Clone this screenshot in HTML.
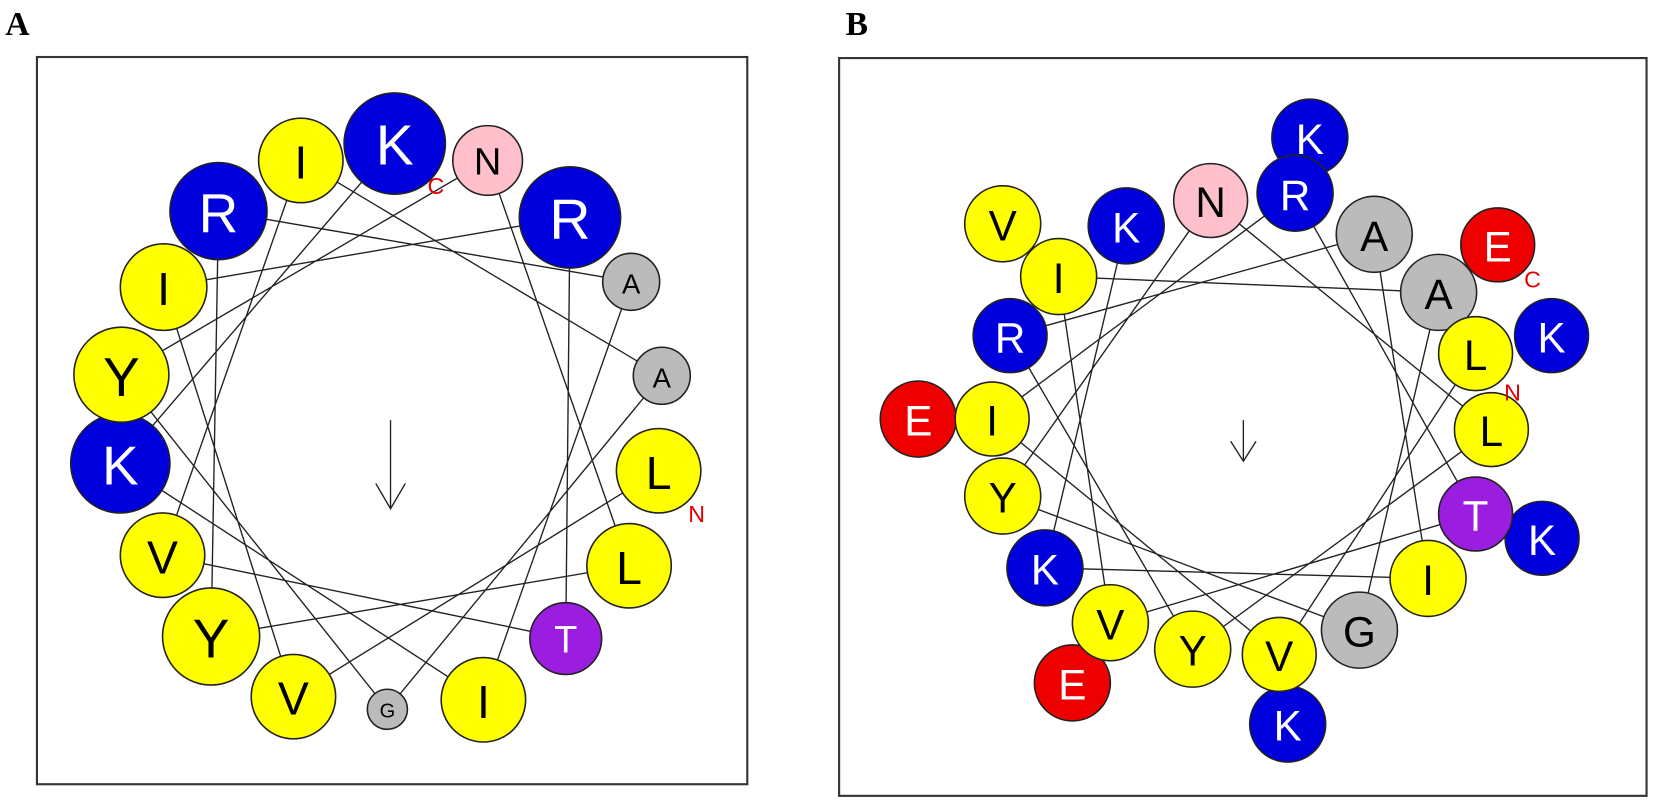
<!DOCTYPE html>
<html><head><meta charset="utf-8"><style>
html,body{margin:0;padding:0;background:#fff;}
svg{display:block}
.c{stroke:#222;stroke-width:1.5}
.t{font-family:"Liberation Sans",Arial,sans-serif;text-anchor:middle;dominant-baseline:central}
.l{stroke:#222;stroke-width:1.3;fill:none}
</style></head><body>
<svg width="1655" height="808" viewBox="0 0 1568 765.5" xmlns="http://www.w3.org/2000/svg">
<rect x="0" y="0" width="1568" height="765.5" fill="#fff"/>
<text x="5" y="33" font-family="Liberation Serif,serif" font-weight="bold" font-size="32">A</text>
<text x="801" y="33" font-family="Liberation Serif,serif" font-weight="bold" font-size="32">B</text>
<rect x="35" y="54" width="673" height="689" fill="none" stroke="#333" stroke-width="2"/>
<rect x="795" y="55" width="765" height="699" fill="none" stroke="#333" stroke-width="2"/>

<!-- Panel A lines: 5,10,15,2,7,12,17,4,9,14,1,6,11,16,3,8,13,0 -->
<polyline class="l" points="624,446 278,660 155,272 540,206 536,605 154,526 285,152 627,356 367,672 115,355 462,152 596,536 200,603 207,200 598,267 458,663 114,439 374,136"/>
<line class="l" x1="370" y1="398" x2="370" y2="481"/>
<polyline class="l" points="356,458 370,482 384,458"/>

<g class="t">
<circle class="c" cx="374" cy="136" r="48" fill="#0000dd"/><text x="374" y="138" font-size="54" fill="#fff">K</text>
<circle class="c" cx="462" cy="152" r="33" fill="#ffc0cb"/><text x="462" y="154" font-size="36" fill="#000">N</text>
<circle class="c" cx="540" cy="206" r="48" fill="#0000dd"/><text x="540" y="208" font-size="54" fill="#fff">R</text>
<circle class="c" cx="598" cy="267" r="27" fill="#bbb"/><text x="598" y="269" font-size="26" fill="#000">A</text>
<circle class="c" cx="627" cy="356" r="27" fill="#bbb"/><text x="627" y="358" font-size="26" fill="#000">A</text>
<circle class="c" cx="624" cy="446" r="40" fill="#ffff00"/><text x="624" y="448" font-size="44" fill="#000">L</text>
<circle class="c" cx="596" cy="536" r="40" fill="#ffff00"/><text x="596" y="538" font-size="44" fill="#000">L</text>
<circle class="c" cx="536" cy="605" r="34" fill="#9b1de0"/><text x="536" y="607" font-size="36" fill="#fff">T</text>
<circle class="c" cx="458" cy="663" r="40" fill="#ffff00"/><text x="458" y="665" font-size="44" fill="#000">I</text>
<circle class="c" cx="367" cy="672" r="19" fill="#bbb"/><text x="367" y="674" font-size="19" fill="#000">G</text>
<circle class="c" cx="278" cy="660" r="40" fill="#ffff00"/><text x="278" y="662" font-size="44" fill="#000">V</text>
<circle class="c" cx="200" cy="603" r="46" fill="#ffff00"/><text x="200" y="605" font-size="52" fill="#000">Y</text>
<circle class="c" cx="154" cy="526" r="40" fill="#ffff00"/><text x="154" y="528" font-size="44" fill="#000">V</text>
<circle class="c" cx="114" cy="439" r="47" fill="#0000dd"/><text x="114" y="441" font-size="52" fill="#fff">K</text>
<circle class="c" cx="115" cy="355" r="45" fill="#ffff00"/><text x="115" y="357" font-size="52" fill="#000">Y</text>
<circle class="c" cx="155" cy="272" r="41" fill="#ffff00"/><text x="155" y="274" font-size="44" fill="#000">I</text>
<circle class="c" cx="207" cy="200" r="46" fill="#0000dd"/><text x="207" y="202" font-size="52" fill="#fff">R</text>
<circle class="c" cx="285" cy="152" r="40" fill="#ffff00"/><text x="285" y="154" font-size="44" fill="#000">I</text>
<text x="660" y="487" font-size="22" fill="#e00000">N</text>
<text x="413" y="176" font-size="22" fill="#e00000">C</text>
</g>

<!-- Panel B -->
<g class="t">
<circle class="c" cx="1241" cy="130" r="36" fill="#0000dd"/><text x="1241" y="132" font-size="40" fill="#fff">K</text>
<circle class="c" cx="1419" cy="232" r="35" fill="#ee0000"/><text x="1419" y="234" font-size="40" fill="#fff">E</text>
<circle class="c" cx="1470" cy="318" r="35" fill="#0000dd"/><text x="1470" y="320" font-size="40" fill="#fff">K</text>
<circle class="c" cx="1461" cy="510" r="35" fill="#0000dd"/><text x="1461" y="512" font-size="40" fill="#fff">K</text>
<circle class="c" cx="1220" cy="686" r="36" fill="#0000dd"/><text x="1220" y="688" font-size="40" fill="#fff">K</text>
<circle class="c" cx="1016" cy="647" r="36" fill="#ee0000"/><text x="1016" y="649" font-size="40" fill="#fff">E</text>
<circle class="c" cx="870" cy="397" r="36" fill="#ee0000"/><text x="870" y="399" font-size="40" fill="#fff">E</text>
<circle class="c" cx="950" cy="212" r="36" fill="#ffff00"/><text x="950" y="214" font-size="40" fill="#000">V</text>
</g>
<polyline class="l" points="1398,335 1212,620 940,397 1227,183 1398,487 1052,590 1003,262 1363,277 1288,597 950,470 1147,190 1413,407 1130,615 957,318 1302,222 1353,548 990,538 1067,214"/>
<line class="l" x1="1178" y1="398" x2="1178" y2="436"/>
<polyline class="l" points="1166,418 1178,437 1190,418"/>
<g class="t">
<circle class="c" cx="1147" cy="190" r="35" fill="#ffc0cb"/><text x="1147" y="192" font-size="40" fill="#000">N</text>
<circle class="c" cx="1227" cy="183" r="36" fill="#0000dd"/><text x="1227" y="185" font-size="40" fill="#fff">R</text>
<circle class="c" cx="1302" cy="222" r="36" fill="#bbb"/><text x="1302" y="224" font-size="40" fill="#000">A</text>
<circle class="c" cx="1363" cy="277" r="36" fill="#bbb"/><text x="1363" y="279" font-size="40" fill="#000">A</text>
<circle class="c" cx="1398" cy="335" r="35" fill="#ffff00"/><text x="1398" y="337" font-size="40" fill="#000">L</text>
<circle class="c" cx="1413" cy="407" r="35" fill="#ffff00"/><text x="1413" y="409" font-size="40" fill="#000">L</text>
<circle class="c" cx="1398" cy="487" r="35" fill="#9b1de0"/><text x="1398" y="489" font-size="40" fill="#fff">T</text>
<circle class="c" cx="1353" cy="548" r="36" fill="#ffff00"/><text x="1353" y="550" font-size="40" fill="#000">I</text>
<circle class="c" cx="1288" cy="597" r="36" fill="#bbb"/><text x="1288" y="599" font-size="40" fill="#000">G</text>
<circle class="c" cx="1212" cy="620" r="35" fill="#ffff00"/><text x="1212" y="622" font-size="40" fill="#000">V</text>
<circle class="c" cx="1130" cy="615" r="36" fill="#ffff00"/><text x="1130" y="617" font-size="40" fill="#000">Y</text>
<circle class="c" cx="1052" cy="590" r="36" fill="#ffff00"/><text x="1052" y="592" font-size="40" fill="#000">V</text>
<circle class="c" cx="990" cy="538" r="36" fill="#0000dd"/><text x="990" y="540" font-size="40" fill="#fff">K</text>
<circle class="c" cx="950" cy="470" r="36" fill="#ffff00"/><text x="950" y="472" font-size="40" fill="#000">Y</text>
<circle class="c" cx="940" cy="397" r="35" fill="#ffff00"/><text x="940" y="399" font-size="40" fill="#000">I</text>
<circle class="c" cx="957" cy="318" r="35" fill="#0000dd"/><text x="957" y="320" font-size="40" fill="#fff">R</text>
<circle class="c" cx="1003" cy="262" r="36" fill="#ffff00"/><text x="1003" y="264" font-size="40" fill="#000">I</text>
<circle class="c" cx="1067" cy="214" r="36" fill="#0000dd"/><text x="1067" y="216" font-size="40" fill="#fff">K</text>
<text x="1452" y="265" font-size="22" fill="#e00000">C</text>
<text x="1433" y="372" font-size="22" fill="#e00000">N</text>
</g>
</svg>
</body></html>
